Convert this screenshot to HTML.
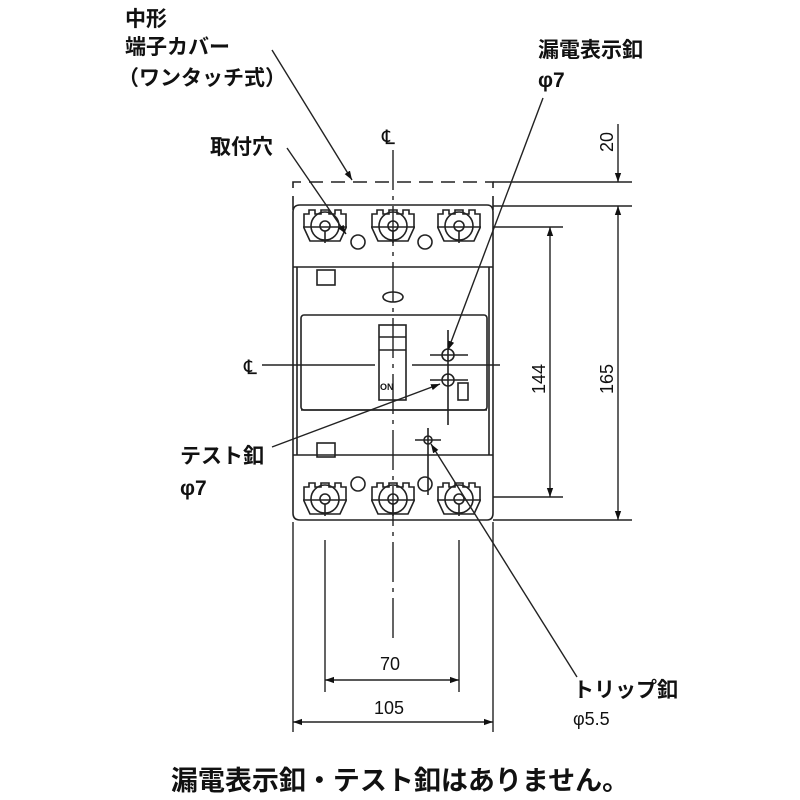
<!DOCTYPE html>
<html><head><meta charset="utf-8"><style>
html,body{margin:0;padding:0;background:#fff;width:800px;height:800px;overflow:hidden}
text{font-family:"Liberation Sans","Noto Sans CJK JP",sans-serif;fill:#111}
.j{font-weight:bold;font-size:21px}
</style></head><body>
<svg width="800" height="800" viewBox="0 0 800 800" xmlns="http://www.w3.org/2000/svg">
<defs>
<marker id="a" viewBox="0 0 10 10" refX="10" refY="5" markerWidth="9" markerHeight="9" orient="auto-start-reverse" markerUnits="userSpaceOnUse"><path d="M0,1.5 L10,5 L0,8.5z" fill="#111"/></marker>
</defs>
<g stroke="#222" stroke-width="1.6" fill="none">
<path d="M293,210 V182 H493 V210" stroke-dasharray="14,8"/>
<path d="M300,205 H487 Q493,205 493,212 V513 Q493,520 487,520 H300 Q293,520 293,513 V212 Q293,205 300,205Z"/>
<line x1="293" y1="267" x2="493" y2="267"/>
<line x1="293" y1="455" x2="493" y2="455"/>
<line x1="297" y1="267" x2="297" y2="455"/>
<line x1="489" y1="267" x2="489" y2="455"/>
<rect x="301" y="315" width="186" height="95" rx="3"/>
<line x1="301" y1="410" x2="487" y2="410"/>
<rect x="379" y="325" width="27" height="75"/>
<line x1="379" y1="350" x2="406" y2="350"/>
<line x1="379" y1="337" x2="406" y2="337"/>
<text x="380" y="390" style="font-size:9px;font-weight:bold" stroke="none">ON</text>
<rect x="317" y="270" width="18" height="15"/>
<rect x="317" y="443" width="18" height="14"/>
<rect x="458" y="383" width="10" height="17"/>
<circle cx="358" cy="242" r="7"/><circle cx="425" cy="242" r="7"/>
<circle cx="358" cy="484" r="7"/><circle cx="425" cy="484" r="7"/>
<ellipse cx="393" cy="297" rx="10" ry="5"/>
<g id="t">
<path d="M304,214 h5 v-4 h6 v4 h6 v-4 h8 v4 h6 v-4 h6 v4 h5 v14 l-6,13 h-30 l-6,-13z"/>
<circle cx="325" cy="226" r="14"/><circle cx="325" cy="226" r="5"/>
<line x1="303" y1="227" x2="347" y2="227"/>
<line x1="325" y1="231" x2="325" y2="243"/>
</g>
<use href="#t" x="68"/><use href="#t" x="134"/>
<use href="#t" y="273"/><use href="#t" x="68" y="273"/><use href="#t" x="134" y="273"/>
<circle cx="448" cy="355" r="6"/><line x1="430" y1="355" x2="468" y2="355"/>
<circle cx="448" cy="380" r="6"/><line x1="430" y1="380" x2="468" y2="380"/>
<line x1="448" y1="330" x2="448" y2="425"/>
<circle cx="428" cy="440" r="4"/><line x1="415" y1="440" x2="441" y2="440"/><line x1="428" y1="428" x2="428" y2="495"/>
</g>
<g stroke="#222" stroke-width="1.4">
<line x1="393" y1="150" x2="393" y2="640" stroke-dasharray="40,6,4,6"/>
<line x1="262" y1="365" x2="375" y2="365"/>
<line x1="412" y1="365" x2="500" y2="365"/>
<line x1="493" y1="182" x2="632" y2="182"/>
<line x1="493" y1="206" x2="632" y2="206"/>
<line x1="493" y1="520" x2="632" y2="520"/>
<line x1="493" y1="227" x2="563" y2="227"/>
<line x1="493" y1="497" x2="563" y2="497"/>
<line x1="293" y1="522" x2="293" y2="732"/>
<line x1="493" y1="522" x2="493" y2="732"/>
<line x1="325" y1="540" x2="325" y2="692"/>
<line x1="459" y1="540" x2="459" y2="692"/>
<line x1="618" y1="124" x2="618" y2="182" marker-end="url(#a)"/>
<line x1="618" y1="206" x2="618" y2="520" marker-start="url(#a)" marker-end="url(#a)"/>
<line x1="550" y1="227" x2="550" y2="497" marker-start="url(#a)" marker-end="url(#a)"/>
<line x1="325" y1="680" x2="459" y2="680" marker-start="url(#a)" marker-end="url(#a)"/>
<line x1="293" y1="722" x2="493" y2="722" marker-start="url(#a)" marker-end="url(#a)"/>
<line x1="272" y1="50" x2="352" y2="180" marker-end="url(#a)"/>
<line x1="287" y1="148" x2="346" y2="234" marker-end="url(#a)"/>
<line x1="543" y1="98" x2="448" y2="350" marker-end="url(#a)"/>
<line x1="272" y1="447" x2="440" y2="384" marker-end="url(#a)"/>
<line x1="577" y1="677" x2="431" y2="444" marker-end="url(#a)"/>
</g>
<text x="382" y="144" style="font-size:20px">℄</text>
<text x="244" y="374" style="font-size:20px">℄</text>
<text transform="translate(613,152) rotate(-90)" style="font-size:18px">20</text>
<text transform="translate(613,394) rotate(-90)" style="font-size:18px">165</text>
<text transform="translate(545,394) rotate(-90)" style="font-size:18px">144</text>
<text x="380" y="670" style="font-size:18px">70</text>
<text x="374" y="714" style="font-size:18px">105</text>
<text class="j" x="125" y="26">中形</text>
<text class="j" x="125" y="54">端子カバー</text>
<text class="j" x="118" y="85">（ワンタッチ式）</text>
<text class="j" x="210" y="154">取付穴</text>
<text class="j" x="538" y="57">漏電表示釦</text>
<text class="j" x="538" y="87">φ7</text>
<text class="j" x="180" y="463">テスト釦</text>
<text class="j" x="180" y="495">φ7</text>
<text class="j" x="573" y="697">トリップ釦</text>
<text x="573" y="725" style="font-size:18px">φ5.5</text>
<text x="400" y="790" text-anchor="middle" style="font-size:27px;font-weight:bold">漏電表示釦・テスト釦はありません。</text>
</svg>
</body></html>
